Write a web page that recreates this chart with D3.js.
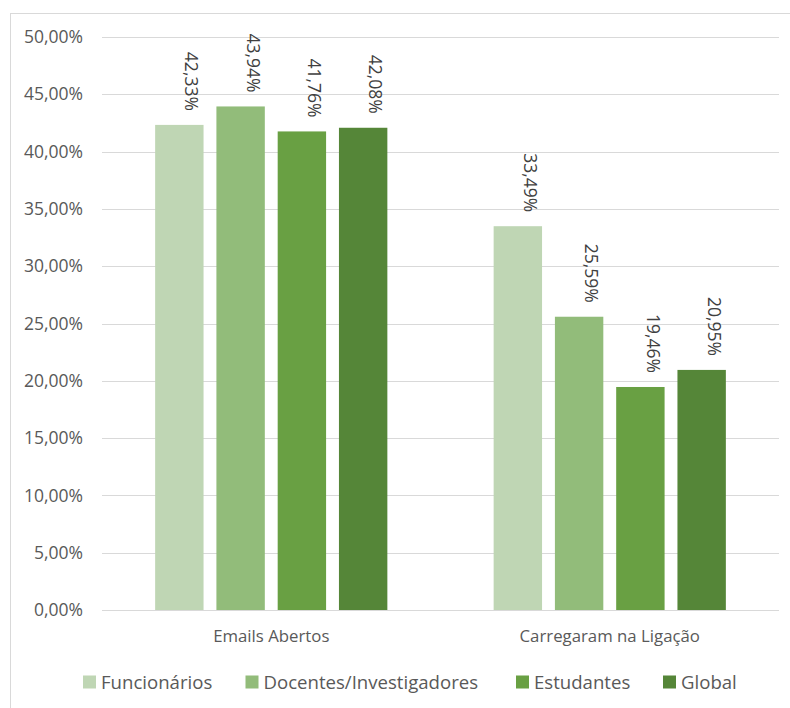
<!DOCTYPE html>
<html><head><meta charset="utf-8">
<script src="https://cdn.jsdelivr.net/npm/d3@7"></script>
<style>body{margin:0;background:#fff}svg{display:block;font-family:"Open Sans",sans-serif}</style>
</head><body><svg id="c" width="790" height="708"></svg>
<script>
const categories = ["Emails Abertos", "Carregaram na Ligação"];
const series = ["Funcionários", "Docentes/Investigadores", "Estudantes", "Global"];
const funcionarios = [42.33, 33.49];
const docentes = [43.94, 25.59];
const estudantes = [41.76, 19.46];
const global = [42.08, 20.95];
const seriesValues = [funcionarios, docentes, estudantes, global];
const colors = ["#BFD6B4", "#92BC7A", "#69A043", "#558638"];
const yTicks = [0, 5, 10, 15, 20, 25, 30, 35, 40, 45, 50];

(function () {
const fmt = v => v.toFixed(2).replace(".", ",") + "%";
const svg = d3.select("#c");
svg.append("rect").attr("x", 10.5).attr("y", 13.5).attr("width", 900).attr("height", 900)
  .attr("fill", "none").attr("stroke", "#D9D9D9");

const pLeft = 102, pRight = 779, pTop = 37, pBottom = 610;
const y = d3.scaleLinear().domain([0, 50]).range([pBottom, pTop]);
const x0 = d3.scaleBand().domain(categories).range([pLeft, pRight]);
const bw = x0.bandwidth();
const x1 = d3.scaleBand().domain(series).range([bw * 0.157, bw * 0.843]).paddingInner(0.21);

svg.append("g").selectAll("line").data(yTicks).join("line")
  .attr("x1", pLeft).attr("x2", pRight)
  .attr("y1", d => Math.round(y(d)) + 0.5).attr("y2", d => Math.round(y(d)) + 0.5)
  .attr("stroke", "#D9D9D9").attr("stroke-width", 1);
svg.append("g").selectAll("text").data(yTicks).join("text")
  .attr("x", 83).attr("y", d => y(d)).attr("dy", "0.35em")
  .attr("text-anchor", "end").attr("font-size", 17.5).attr("fill", "#595959")
  .text(d => fmt(d));

const rows = [];
categories.forEach((c, ci) => series.forEach((s, si) => rows.push({c, s, si, v: seriesValues[si][ci]})));

const g = svg.append("g");
g.selectAll("rect").data(rows).join("rect")
  .attr("x", d => x0(d.c) + x1(d.s)).attr("width", x1.bandwidth())
  .attr("y", d => y(d.v)).attr("height", d => y(0) - y(d.v))
  .attr("fill", d => colors[d.si]);

g.selectAll("text").data(rows).join("text")
  .attr("transform", d => `translate(${x0(d.c) + x1(d.s) + x1.bandwidth() / 2},${y(d.v) - 14}) rotate(90)`)
  .attr("text-anchor", "end").attr("dy", "-0.35em")
  .attr("font-size", 17.5).attr("fill", "#404040")
  .text(d => fmt(d.v));

svg.append("g").selectAll("text").data(categories).join("text")
  .attr("x", d => x0(d) + bw / 2).attr("y", 636).attr("dy", "0.35em")
  .attr("text-anchor", "middle").attr("font-size", 16.8).attr("fill", "#595959")
  .text(d => d);

const legX = [83, 245.5, 516, 663];
const leg = svg.append("g").selectAll("g").data(series).join("g")
  .attr("transform", (d, i) => `translate(${legX[i]},682)`);
leg.append("rect").attr("x", 0).attr("y", -6.5).attr("width", 13).attr("height", 13)
  .attr("fill", (d, i) => colors[i]);
leg.append("text").attr("x", 18).attr("y", 0).attr("dy", "0.35em")
  .attr("font-size", 18.6).attr("fill", "#595959").text(d => d);
})();
</script></body></html>
